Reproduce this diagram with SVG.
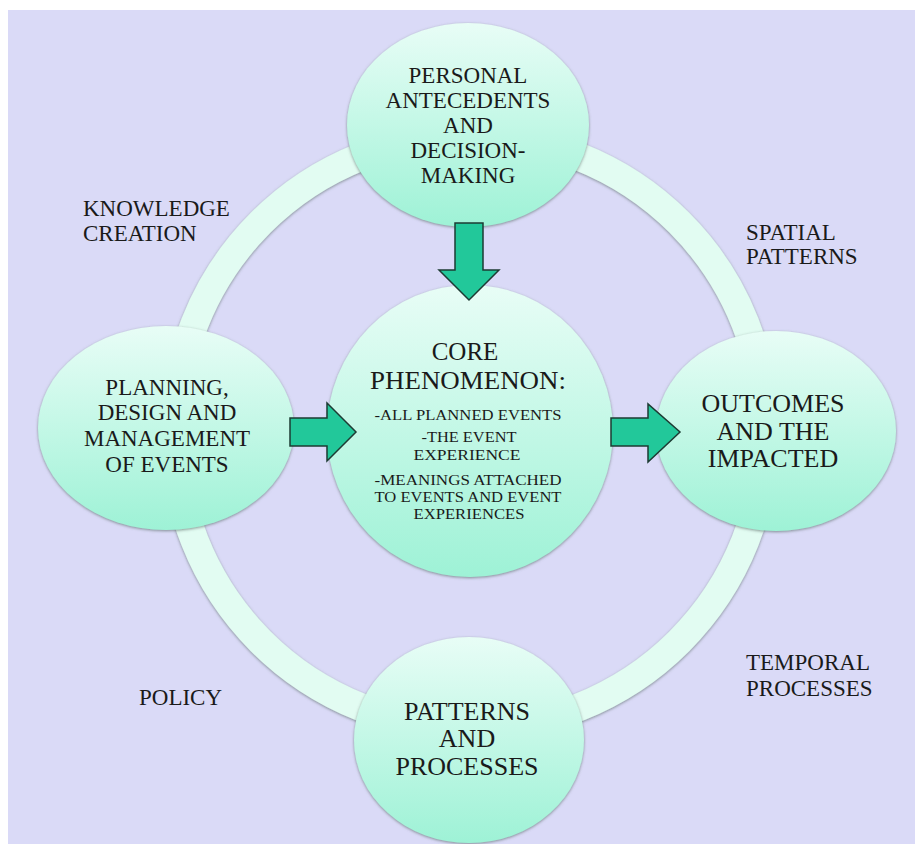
<svg xmlns="http://www.w3.org/2000/svg" width="915" height="844" viewBox="0 0 915 844">
  <defs>
    <linearGradient id="bubble" x1="0" y1="0" x2="0" y2="1">
      <stop offset="0" stop-color="#e8fdf6"/>
      <stop offset="1" stop-color="#9ef2d6"/>
    </linearGradient>
    <filter id="shadow" x="-10%" y="-10%" width="120%" height="120%">
      <feDropShadow dx="0" dy="1" stdDeviation="1.5" flood-color="#5a6a66" flood-opacity="0.7"/>
    </filter>
  </defs>
  <style>
    .bubble { fill: url(#bubble); filter: url(#shadow); }
    .ring { fill: none; stroke: #e2fcf2; stroke-width: 28; filter: url(#shadow); }
    .arrow { fill: #22c89a; stroke: #1d3b33; stroke-width: 1.5; stroke-linejoin: miter; }
    text { font-family: "Liberation Serif", "Times New Roman", serif; fill: #1a1a1a; }
    .c { text-anchor: middle; }
    .lbl { font-size: 23px; }
    .m { font-size: 23px; }
    .l { font-size: 26px; }
    .s { font-size: 14px; }
    .t { font-size: 25px; }
  </style>

  <rect x="0" y="0" width="915" height="844" fill="#ffffff"/>
  <rect x="8" y="10" width="907" height="834" fill="#dadaf7"/>

  <g id="ring">
    <circle class="ring" cx="470" cy="432" r="296"/>
  </g>

  <g id="labels">
    <text class="lbl" x="83" y="216">KNOWLEDGE</text>
    <text class="lbl" x="83" y="241">CREATION</text>
    <text class="lbl" x="746" y="240">SPATIAL</text>
    <text class="lbl" x="746" y="264">PATTERNS</text>
    <text class="lbl" x="139" y="705">POLICY</text>
    <text class="lbl" x="746" y="670">TEMPORAL</text>
    <text class="lbl" x="746" y="696">PROCESSES</text>
  </g>

  <g id="node-personal">
    <ellipse class="bubble" cx="468" cy="125" rx="121" ry="102"/>
    <text class="c m" x="468" y="83">PERSONAL</text>
    <text class="c m" x="468" y="108">ANTECEDENTS</text>
    <text class="c m" x="468" y="133">AND</text>
    <text class="c m" x="468" y="158">DECISION-</text>
    <text class="c m" x="468" y="183">MAKING</text>
  </g>

  <g id="node-planning">
    <ellipse class="bubble" cx="166" cy="428" rx="128" ry="102"/>
    <text class="c m" x="167" y="395">PLANNING,</text>
    <text class="c m" x="167" y="420">DESIGN AND</text>
    <text class="c m" x="167" y="446">MANAGEMENT</text>
    <text class="c m" x="167" y="472">OF EVENTS</text>
  </g>

  <g id="node-outcomes">
    <ellipse class="bubble" cx="776" cy="431" rx="120" ry="100"/>
    <text class="c l" x="773" y="412">OUTCOMES</text>
    <text class="c l" x="773" y="440">AND THE</text>
    <text class="c l" x="773" y="467">IMPACTED</text>
  </g>

  <g id="node-patterns">
    <ellipse class="bubble" cx="469" cy="740" rx="115" ry="103"/>
    <text class="c l" x="467" y="720">PATTERNS</text>
    <text class="c l" x="467" y="747">AND</text>
    <text class="c l" x="467" y="775">PROCESSES</text>
  </g>

  <g id="node-core">
    <ellipse class="bubble" cx="470" cy="431" rx="143" ry="146"/>
    <text class="c t" x="465" y="360">CORE</text>
    <text class="c t" x="468" y="389" textLength="196" lengthAdjust="spacingAndGlyphs">PHENOMENON:</text>
    <text class="c s" x="468" y="420" textLength="187" lengthAdjust="spacingAndGlyphs">-ALL PLANNED EVENTS</text>
    <text class="c s" x="469" y="442" textLength="95" lengthAdjust="spacingAndGlyphs">-THE EVENT</text>
    <text class="c s" x="467" y="460" textLength="107" lengthAdjust="spacingAndGlyphs">EXPERIENCE</text>
    <text class="c s" x="468" y="485" textLength="187" lengthAdjust="spacingAndGlyphs">-MEANINGS ATTACHED</text>
    <text class="c s" x="468" y="502" textLength="187" lengthAdjust="spacingAndGlyphs">TO EVENTS AND EVENT</text>
    <text class="c s" x="469" y="519" textLength="111" lengthAdjust="spacingAndGlyphs">EXPERIENCES</text>
  </g>

  <g id="connectors">
    <polygon class="arrow" points="455,223 483,223 483,270 499,270 469,300 439,270 455,270"/>
    <polygon class="arrow" points="290,418 327,418 327,403 356,432 327,461 327,446 290,446"/>
    <polygon class="arrow" points="611,418 648,418 648,404 680,432 648,462 648,446 611,446"/>
  </g>
</svg>
